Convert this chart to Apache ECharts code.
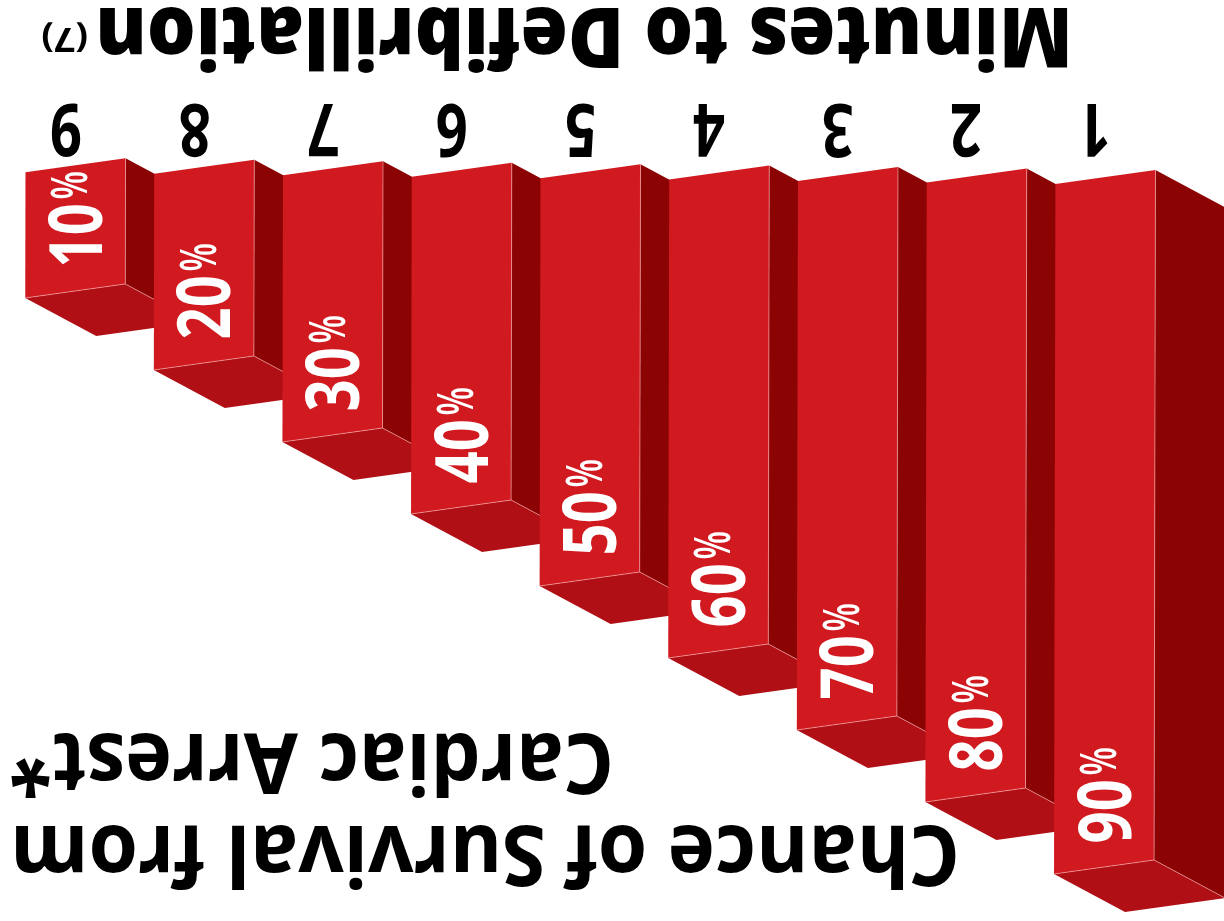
<!DOCTYPE html>
<html>
<head>
<meta charset="utf-8">
<style>html,body{margin:0;padding:0;background:#fff}#chart{width:1224px;height:921px}</style>
<script src="https://cdn.jsdelivr.net/npm/echarts@6/dist/echarts.min.js"></script>
</head>
<body>
<div id="chart"></div>
<script>
// Survival chance by minutes to defibrillation
const minutes = ['9', '8', '7', '6', '5', '4', '3', '2', '1'];
const survival = [10, 20, 30, 40, 50, 60, 70, 80, 90];

const FRONT = '#d01a20';
const SIDE = '#8c0304';
const UNDER = '#b01015';
const EDGE = 'rgba(255,190,190,0.55)';
const FACE = '"Open Sans",sans-serif';

// Prism proportions, in pixels, applied around each scaled value
const CAP_VALUE = -7.8;
const DRIFT = 1.45, RISE = 14, DEPTH_X = 71, DEPTH_Y = 38, TILT = 0.002;

function renderPrism(params, api) {
  const i = api.value(0), v = api.value(1);
  const last = minutes.length - 1;
  const band = api.size([1, 0])[0];
  const drift = (i - last) * DRIFT;
  const low = api.coord([i, v]);
  const high = api.coord([i, CAP_VALUE]);
  const left = low[0] - band * 0.317;
  const w = band * 0.778;
  const yB = low[1] + drift, yT = high[1] + drift;
  const lean = (yB - yT) * TILT;
  const bl = [left, yB], br = [left + w, yB - RISE];
  const tl = [left + lean, yT], tr = [left + w + lean, yT - RISE];
  const dep = p => [p[0] + DEPTH_X, p[1] + DEPTH_Y];
  const poly = (pts, fill) => ({ type: 'polygon', shape: { points: pts }, style: { fill: fill } });
  const line = (pts) => ({ type: 'polyline', shape: { points: pts }, style: { fill: null, stroke: EDGE, lineWidth: 1 } });
  const digitX = left + 55.5, digitY = yB - 30.5;
  return {
    type: 'group',
    children: [
      poly([tr, dep(tr), dep(br), br], SIDE),
      poly([bl, br, dep(br), dep(bl)], UNDER),
      poly([tl, tr, br, bl], FRONT),
      line([tr, br]),
      line([bl, br, dep(br)]),
      {
        type: 'text', x: digitX, y: digitY, rotation: Math.PI / 2, scaleX: 0.76,
        style: { text: String(v), fontFamily: FACE, fontWeight: 'bold', fontSize: 74, fill: '#fff', align: 'left', verticalAlign: 'middle' }
      },
      {
        type: 'text', x: digitX - 7.5, y: digitY - 68, rotation: Math.PI / 2, scaleX: 0.66,
        style: { text: '%', fontFamily: FACE, fontWeight: 600, fontSize: 50, fill: '#fff', align: 'left', verticalAlign: 'middle' }
      },
      {
        type: 'text', x: low[0], y: 124.5, rotation: Math.PI, scaleX: 0.77,
        style: { text: minutes[i], fontFamily: FACE, fontWeight: 'bold', fontSize: 73, fill: '#000', align: 'center', verticalAlign: 'middle' }
      }
    ]
  };
}

// Upside-down heading; baseline is the line's baseline
function flipped(text, x, baseline, size, scaleX, weight) {
  return {
    type: 'text', x: x, y: baseline + size * 0.388, rotation: Math.PI, scaleX: scaleX,
    style: { text: text, fontFamily: FACE, fontWeight: weight || 'bold', fontSize: size, fill: '#000', align: 'left', verticalAlign: 'middle' }
  };
}

const chart = echarts.init(document.getElementById('chart'), null, { renderer: 'canvas' });
chart.setOption({
  animation: false,
  backgroundColor: '#fff',
  grid: { left: 1.7, top: 168.45, width: 1157.4, height: 705.55 },
  xAxis: {
    type: 'category',
    position: 'top',
    data: minutes,
    axisLine: { show: false },
    axisTick: { show: false },
    axisLabel: { show: false }
  },
  yAxis: {
    type: 'value',
    inverse: true,
    min: -10,
    max: 90,
    interval: 10,
    axisLabel: { show: false },
    axisLine: { show: false },
    axisTick: { show: false },
    splitLine: { show: false }
  },
  series: [{
    type: 'custom',
    clip: false,
    renderItem: renderPrism,
    encode: { x: 0, y: 1 },
    data: survival.map((v, i) => [i, v])
  }],
  graphic: [
    flipped('Minutes to Defibrillation', 1073, -1, 84, 0.914, 800),
    flipped('(7)', 88, 24, 34, 1.1),
    flipped('Chance of Survival from', 960, 817, 84, 0.95),
    flipped('Cardiac Arrest*', 614, 725, 84, 0.938)
  ]
});
</script>
</body>
</html>
